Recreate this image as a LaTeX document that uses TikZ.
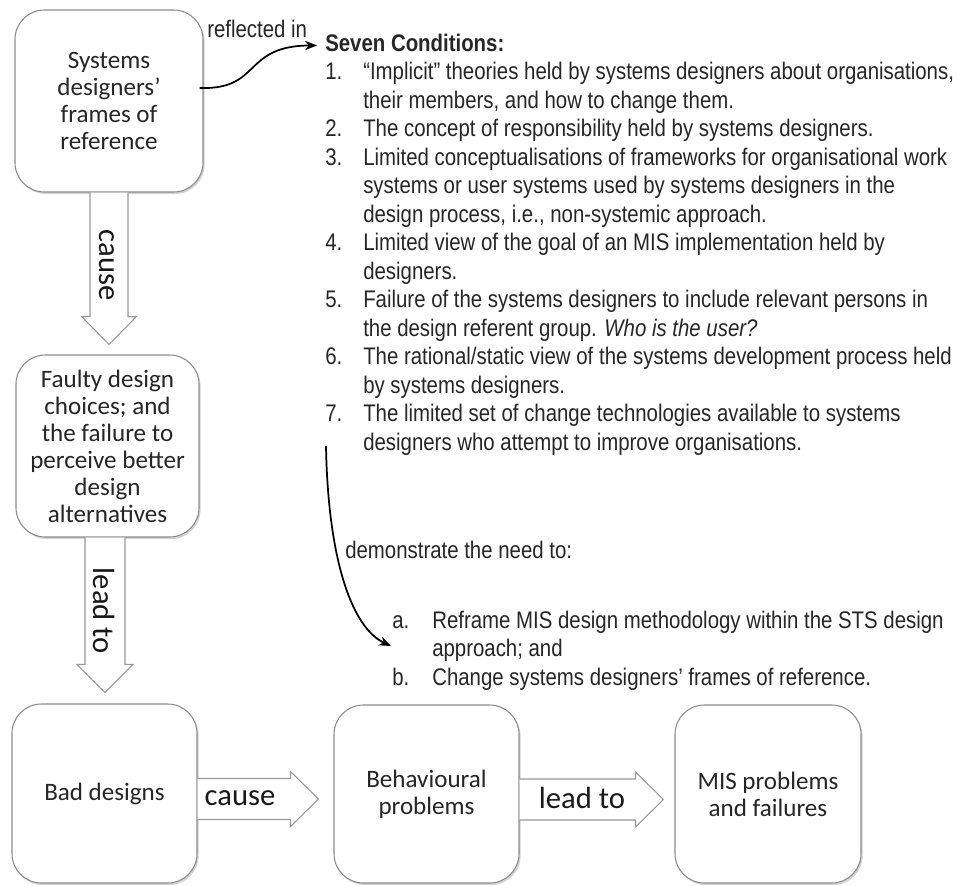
\documentclass[tikz,border=0pt]{standalone}
\usepackage{fontspec}
\setmainfont{Liberation Sans}[FakeStretch=0.85]
\newfontfamily\boxfont{Carlito}
\usetikzlibrary{calc,shadows,arrows.meta}
\begin{document}
\begin{tikzpicture}[x=0.75pt,y=-0.75pt,
  stage/.style={draw=black!45, line width=0.8pt, fill=white, rounded corners=22pt,
    align=center, inner sep=2pt, text=black!85,
    font=\boxfont\fontsize{18.8}{20.25}\selectfont,
    drop shadow={shadow xshift=1.2pt, shadow yshift=-1.5pt, opacity=0.35}},
  blockarrow/.style={draw=black!40, line width=0.8pt, fill=white},
  arrowlabel/.style={font=\boxfont\fontsize{23}{26}\selectfont, text=black!90, inner sep=0pt},
  listtext/.style={font=\fontsize{18}{21.375}\selectfont, text=black!85, inner sep=0pt, anchor=base west},
  link/.style={line width=1.3pt, black, -{Stealth[length=9pt,width=7pt]}}]

\useasboundingbox (0,0) rectangle (963,885);

% process boxes
\node[stage, minimum width=141pt, minimum height=136.5pt] (b1) at (109,101)
  {Systems\\designers’\\frames of\\reference};
\node[stage, minimum width=137.25pt, minimum height=136.5pt] (b2) at (107.5,446)
  {Faulty design\\choices; and\\the failure to\\perceive better\\design\\alternatives};
\node[stage, minimum width=138.75pt, minimum height=134.25pt] (b3) at (104.5,793.5)
  {Bad designs};
\node[stage, minimum width=138.75pt, minimum height=133.5pt] (b4) at (426.5,794)
  {Behavioural\\problems};
\node[stage, minimum width=139.5pt, minimum height=133.5pt] (b5) at (768,794)
  {MIS problems\\and failures};

% block arrows down
\draw[blockarrow] let \p1=(b1.south), \p2=(b2.north) in
  (\x1-14.25pt,\y1) -- (\x1-14.25pt,\y2+28.5pt) -- (\x1-20.6pt,\y2+28.5pt)
  -- (\x1,\y2+7.5pt) -- (\x1+20.6pt,\y2+28.5pt) -- (\x1+14.25pt,\y2+28.5pt)
  -- (\x1+14.25pt,\y1);
\draw[blockarrow] let \p1=(b2.south), \p2=(b3.north) in
  (\x1-16.9pt,\y1) -- (\x1-16.9pt,\y2+29.25pt) -- (\x1-22.9pt,\y2+29.25pt)
  -- (\x1-1.9pt,\y2+8.25pt) -- (\x1+19.1pt,\y2+29.25pt) -- (\x1+13.1pt,\y2+29.25pt)
  -- (\x1+13.1pt,\y1);

% block arrows right
\draw[blockarrow] let \p1=(b3.east), \p2=(b4.west) in
  (\x1,\y1+11.25pt) -- (\x2-32.25pt,\y1+11.25pt) -- (\x2-32.25pt,\y1+16.5pt)
  -- (\x2-11.25pt,\y1-4.1pt) -- (\x2-32.25pt,\y1-24.75pt) -- (\x2-32.25pt,\y1-19.5pt)
  -- (\x1,\y1-19.5pt);
\draw[blockarrow] let \p1=(b4.east), \p2=(b5.west) in
  (\x1,\y1+11.25pt) -- (\x2-29.25pt,\y1+11.25pt) -- (\x2-29.25pt,\y1+16.5pt)
  -- (\x2-8.25pt,\y1-4.1pt) -- (\x2-29.25pt,\y1-24.75pt) -- (\x2-29.25pt,\y1-19.5pt)
  -- (\x1,\y1-19.5pt);

% block arrow labels
\node[arrowlabel, rotate=-90] (l1) at (107,265) {cause};
\node[arrowlabel, rotate=-90] (l2) at (104,611) {lead to};
\node[arrowlabel] (l3) at (240,798) {cause};
\node[arrowlabel] (l4) at (582,798) {lead to};

% list of conditions
\node[listtext] (rin) at (207,37) {reflected in};
\node[listtext, font=\bfseries\fontsize{18}{21.375}\selectfont] (head) at (325,51) {Seven Conditions:};

\node[listtext] (n1) at (325,79.5) {1.};
\node[listtext] (t1) at (363,79.5) {\parbox[t]{620pt}{“Implicit” theories held by systems designers about organisations,\\their members, and how to change them.}};
\node[listtext] (n2) at (325,136.5) {2.};
\node[listtext] (t2) at (363,136.5) {The concept of responsibility held by systems designers.};
\node[listtext] (n3) at (325,165) {3.};
\node[listtext] (t3) at (363,165) {\parbox[t]{620pt}{Limited conceptualisations of frameworks for organisational work\\systems or user systems used by systems designers in the\\design process, i.e., non-systemic approach.}};
\node[listtext] (n4) at (325,250.5) {4.};
\node[listtext] (t4) at (363,250.5) {\parbox[t]{620pt}{Limited view of the goal of an MIS implementation held by\\designers.}};
\node[listtext] (n5) at (325,307.5) {5.};
\node[listtext] (t5) at (363,307.5) {\parbox[t]{620pt}{Failure of the systems designers to include relevant persons in\\the design referent group. \textit{Who is the user?}}};
\node[listtext] (n6) at (325,364.5) {6.};
\node[listtext] (t6) at (363,364.5) {\parbox[t]{620pt}{The rational/static view of the systems development process held\\by systems designers.}};
\node[listtext] (n7) at (325,421.5) {7.};
\node[listtext] (t7) at (363,421.5) {\parbox[t]{620pt}{The limited set of change technologies available to systems\\designers who attempt to improve organisations.}};

% needs
\node[listtext] (dem) at (345,558) {demonstrate the need to:};
\node[listtext] (na) at (392,628) {a.};
\node[listtext] (ta) at (432,628) {\parbox[t]{560pt}{Reframe MIS design methodology within the STS design\\approach; and}};
\node[listtext] (nb) at (392,685) {b.};
\node[listtext] (tb) at (432,685) {Change systems designers’ frames of reference.};

% curved connectors
\draw[link] ($(b1.east)+(-4,-13)$) .. controls (262,90) and (242,46) .. ($(head.west)+(-8,3)$);
\coordinate (dstart) at (326,446);
\coordinate (dend) at (391,646);
\draw[link] (dstart) .. controls (328,560) and (352,628) .. (dend);
\end{tikzpicture}
\end{document}
